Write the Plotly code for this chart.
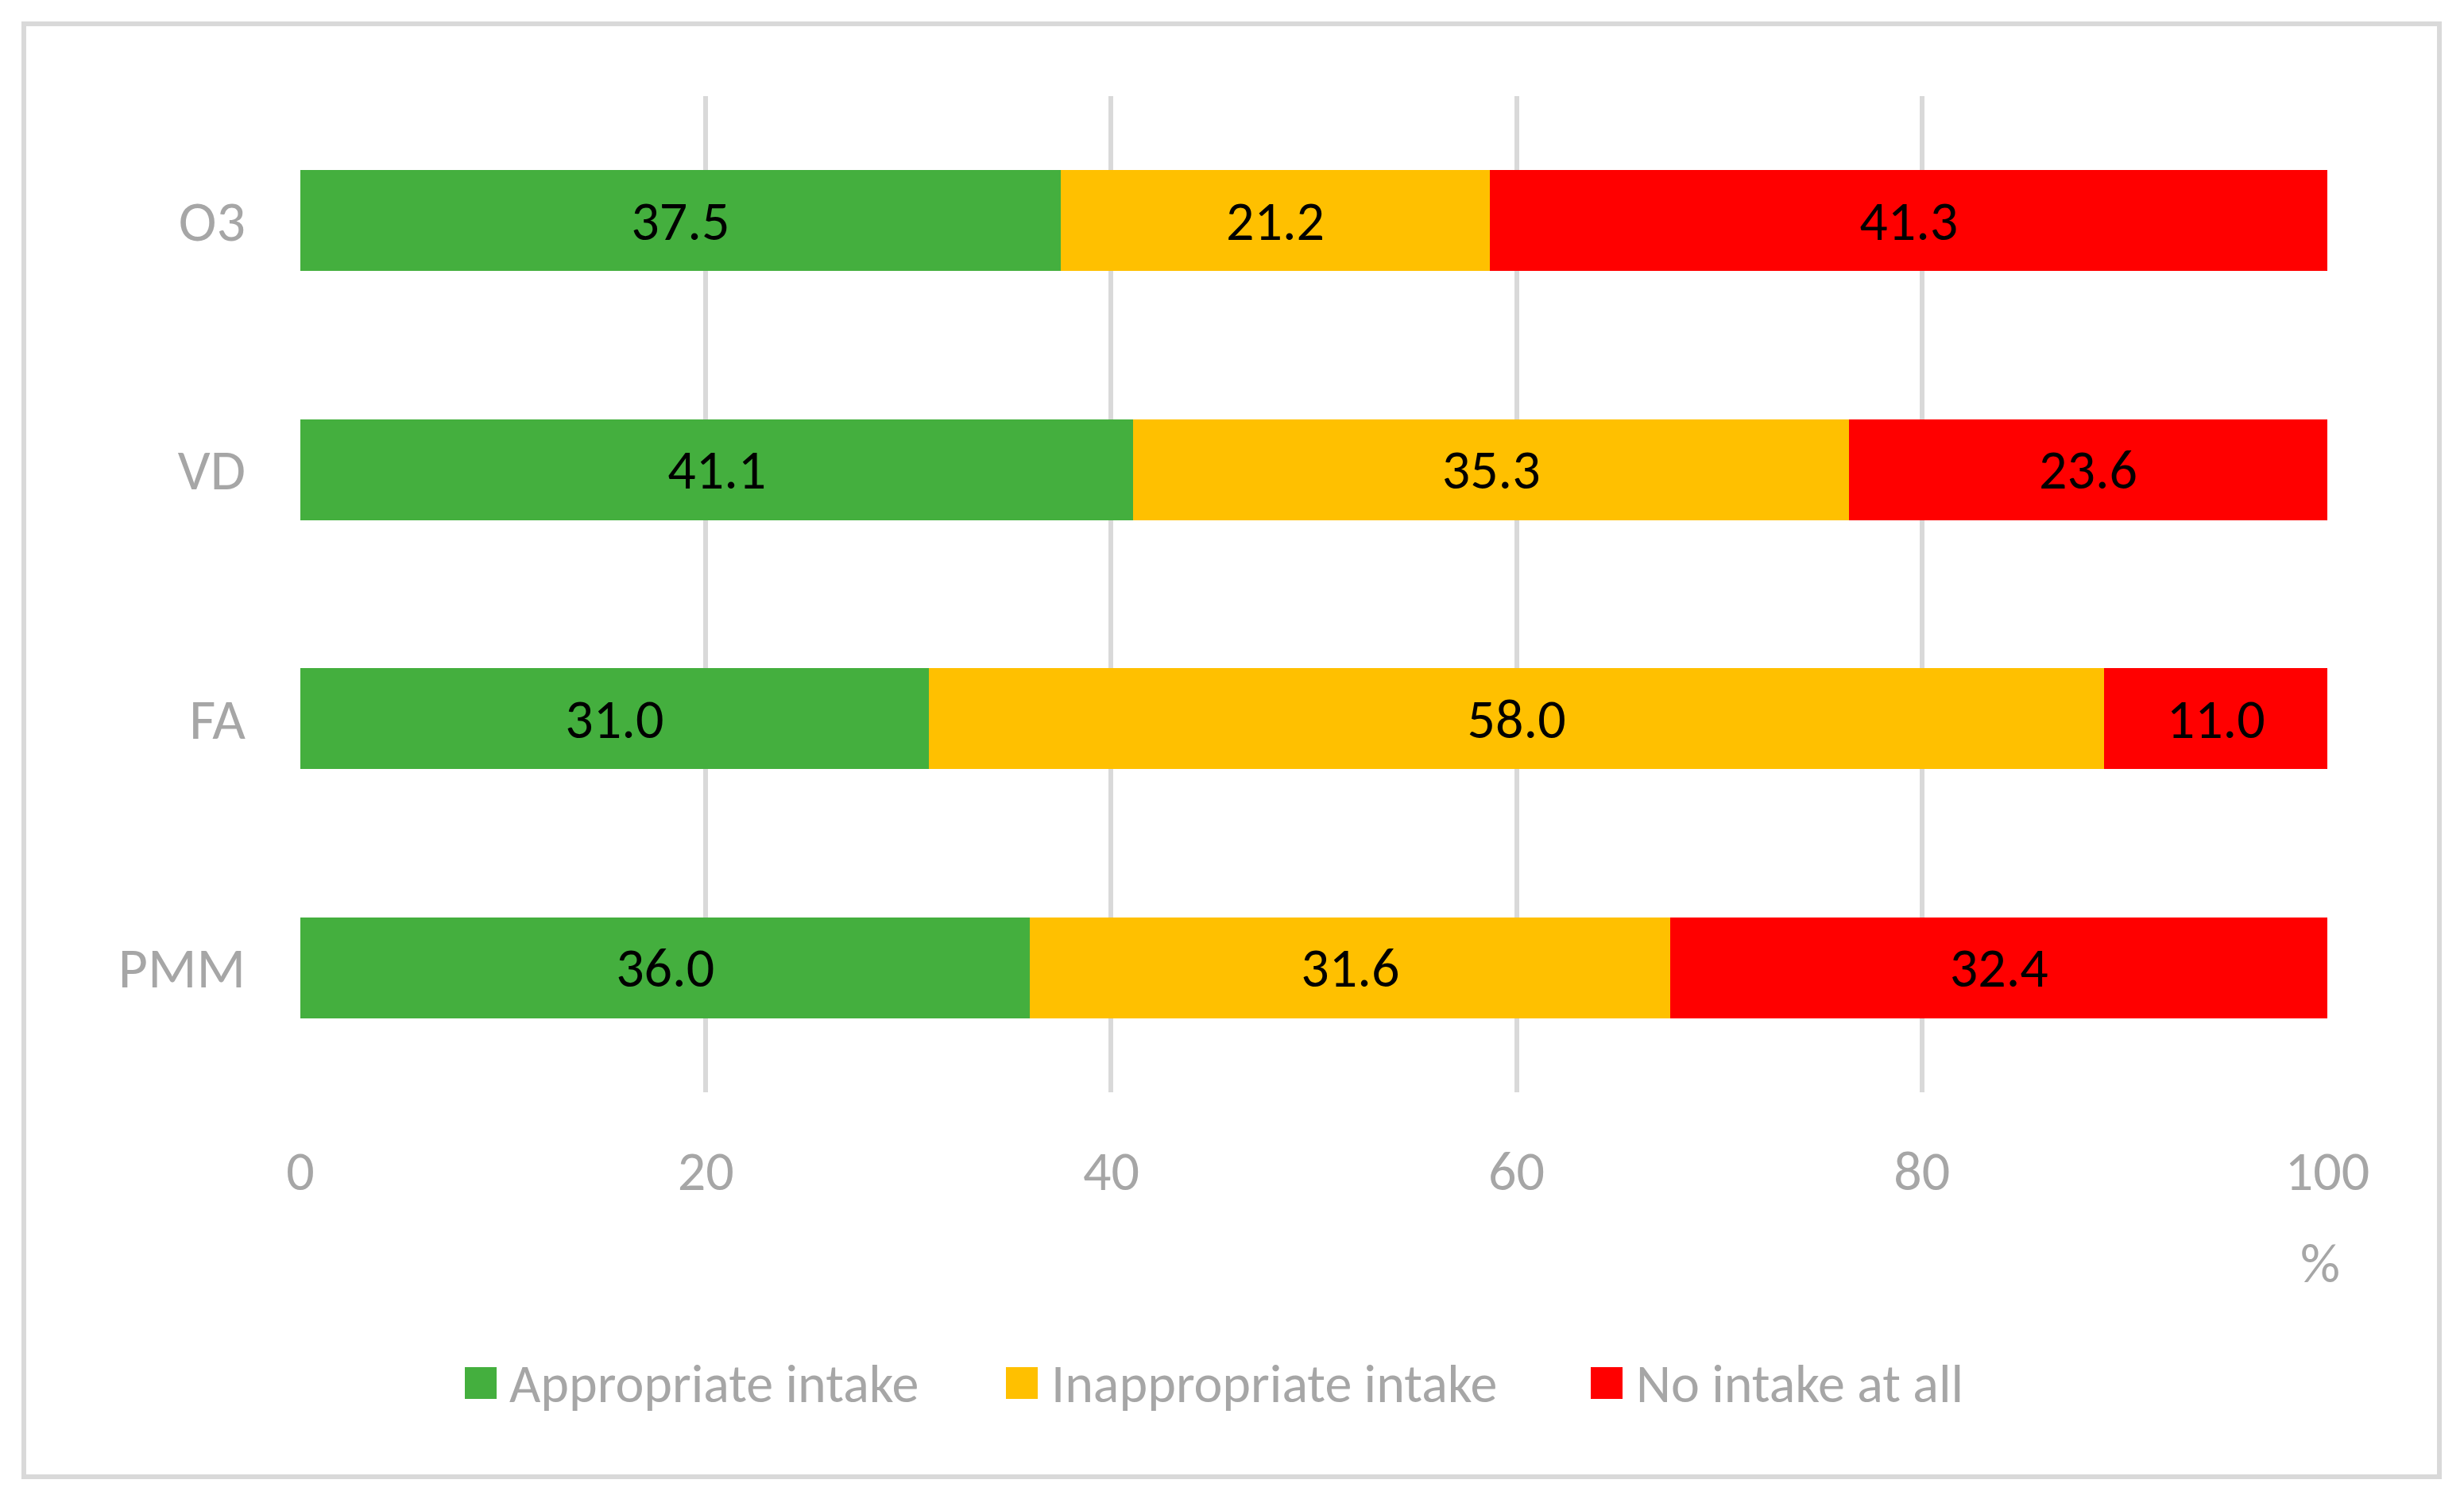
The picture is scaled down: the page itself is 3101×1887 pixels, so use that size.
import plotly.graph_objects as go

# data (percent of respondents)
categories = ['O3', 'VD', 'FA', 'PMM']
appropriate = [37.5, 41.1, 31.0, 36.0]
inappropriate = [21.2, 35.3, 58.0, 31.6]
no_intake = [41.3, 23.6, 11.0, 32.4]
series_names = ['Appropriate intake', 'Inappropriate intake', 'No intake at all']
x_ticks = [0, 20, 40, 60, 80, 100]

colors = ['#44AF3E', '#FFC000', '#FF0000']
font_family = 'Carlito, Lato, sans-serif'
gray = '#A6A6A6'

# page body has an 8px margin, so the figure is a bit smaller than the window
OFF = 8
W, H = 3101 - 2 * OFF, 1887 - 2 * OFF
# plot area in window pixels
L, R, T, B = 378 - OFF, 172 - OFF, 121 - OFF, 512 - OFF
pw = W - L - R
ph = H - T - B


def px_x(px):
    return (px - OFF - L) / pw


def px_y(py):
    return (H - B - (py - OFF)) / ph


fig = go.Figure()

for name, vals, col in zip(series_names, [appropriate, inappropriate, no_intake], colors):
    fig.add_trace(go.Bar(
        y=categories,
        x=vals,
        name=name,
        orientation='h',
        marker=dict(color=col, line=dict(width=0)),
        texttemplate='%{x:.1f}',
        textposition='inside',
        insidetextanchor='middle',
        textfont=dict(size=70, color='black', family=font_family),
        showlegend=False,
        hoverinfo='skip'
    ))

# outer chart border
fig.add_shape(type='rect', xref='paper', yref='paper',
              x0=px_x(30), x1=px_x(3070), y0=px_y(1859), y1=px_y(30),
              line=dict(color='#D9D9D9', width=6), fillcolor='rgba(0,0,0,0)')

# legend drawn by hand so the swatches can be large
legend_sq = [585, 1266, 2002]
legend_txt = [639, 1321, 2057]
for name, col, sx, tx in zip(series_names, colors, legend_sq, legend_txt):
    fig.add_shape(type='rect', xref='paper', yref='paper',
                  x0=px_x(sx), x1=px_x(sx + 40), y0=px_y(1761), y1=px_y(1721),
                  line=dict(width=0), fillcolor=col)
    fig.add_annotation(xref='paper', yref='paper', x=px_x(tx), y=px_y(1741),
                       text=name, showarrow=False, xanchor='left', yanchor='middle',
                       font=dict(size=68, color=gray, family=font_family))

# axis unit
fig.add_annotation(xref='paper', yref='paper', x=px_x(2920), y=px_y(1590),
                   text='%', showarrow=False, xanchor='center', yanchor='middle',
                   font=dict(size=70, color=gray, family=font_family))

fig.update_layout(
    width=W, height=H,
    margin=dict(l=L, r=R, t=T, b=B),
    barmode='stack',
    bargap=0.595,
    plot_bgcolor='white',
    paper_bgcolor='white',
    font=dict(family=font_family, color=gray),
    xaxis=dict(
        range=[0, 100],
        tickvals=x_ticks,
        showgrid=True,
        gridcolor='#D9D9D9',
        gridwidth=6,
        zeroline=False,
        showline=False,
        ticks='',
        ticklabelstandoff=52,
        tickfont=dict(size=70, color=gray, family=font_family)
    ),
    yaxis=dict(
        autorange='reversed',
        showgrid=False,
        zeroline=False,
        showline=False,
        ticks='',
        ticklabelstandoff=68,
        tickfont=dict(size=72, color=gray, family=font_family)
    )
)

fig.write_html('out.html')
